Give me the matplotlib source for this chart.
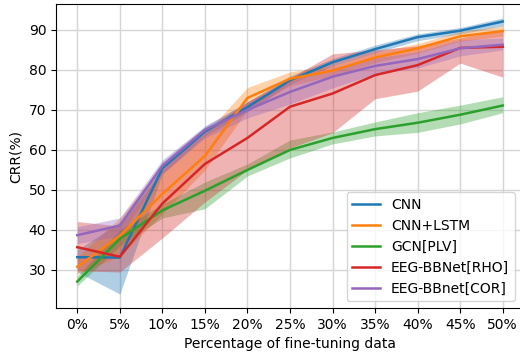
import numpy as np
import matplotlib
matplotlib.use("Agg")
import matplotlib.pyplot as plt

# fine-tuning share on the x axis
ticks = ['0%', '5%', '10%', '15%', '20%', '25%', '30%', '35%', '40%', '45%', '50%']

# mean CRR per model
cnn = [33.2, 33.1, 55.4, 64.6, 70.7, 77.4, 81.9, 85.2, 88.2, 89.8, 92.1]
cnn_lstm = [30.8, 38.5, 49.0, 58.5, 73.0, 77.8, 79.8, 83.1, 85.4, 88.4, 89.7]
gcn_plv = [27.1, 37.8, 44.9, 49.8, 55.0, 60.0, 63.0, 65.2, 66.8, 68.8, 71.1]
bb_rho = [35.7, 33.3, 46.6, 56.5, 63.0, 70.8, 74.1, 78.7, 81.2, 85.5, 85.8]
bb_cor = [38.7, 41.1, 56.0, 65.0, 70.0, 74.5, 78.3, 81.0, 82.7, 85.4, 86.3]

# shaded range, lower / upper
cnn_lo = [29.5, 24.0, 54.0, 63.5, 69.5, 76.5, 81.0, 84.3, 87.3, 89.0, 91.0]
cnn_hi = [35.0, 42.0, 57.0, 65.8, 72.0, 78.5, 82.8, 86.2, 89.0, 90.6, 93.0]
lstm_lo = [29.0, 33.5, 44.0, 55.0, 70.0, 76.0, 78.6, 81.8, 84.2, 87.2, 88.4]
lstm_hi = [33.2, 43.0, 56.0, 64.0, 75.6, 79.5, 81.0, 84.4, 86.6, 89.6, 91.0]
gcn_lo = [26.0, 36.0, 43.0, 45.3, 53.5, 58.0, 61.5, 63.5, 64.4, 66.5, 69.3]
gcn_hi = [28.5, 40.0, 46.5, 52.0, 56.5, 62.5, 64.5, 67.0, 69.3, 71.2, 73.3]
rho_lo = [29.8, 29.5, 38.0, 47.0, 55.0, 60.5, 64.3, 72.8, 74.7, 81.7, 78.2]
rho_hi = [42.1, 41.0, 55.0, 65.0, 72.0, 78.0, 84.0, 85.0, 86.0, 88.0, 90.0]
cor_lo = [36.6, 38.5, 54.0, 63.0, 68.0, 71.5, 75.5, 79.0, 80.5, 83.5, 85.0]
cor_hi = [40.8, 43.0, 57.5, 66.0, 72.0, 77.0, 80.5, 83.0, 84.5, 87.5, 88.0]

names = ['CNN', 'CNN+LSTM', 'GCN[PLV]', 'EEG-BBNet[RHO]', 'EEG-BBnet[COR]']
means = [cnn, cnn_lstm, gcn_plv, bb_rho, bb_cor]
lows = [cnn_lo, lstm_lo, gcn_lo, rho_lo, cor_lo]
highs = [cnn_hi, lstm_hi, gcn_hi, rho_hi, cor_hi]
colors = ['#1f77b4', '#ff7f0e', '#2ca02c', '#d62728', '#9467bd']

x = np.arange(len(ticks))

fig = plt.figure(figsize=(5.2, 3.53), dpi=100)
# the right edge of the axes sits just past the picture, as in the original crop
ax = fig.add_axes([56 / 520, 45 / 353, 468 / 520, 303.7 / 353])

for m, lo, hi, c, name in zip(means, lows, highs, colors, names):
    ax.fill_between(x, lo, hi, color=c, alpha=0.35, linewidth=0)
    ax.plot(x, m, color=c, linewidth=1.8, label=name)

ax.set_xticks(x)
ax.set_xticklabels(ticks)
ax.set_yticks([30, 40, 50, 60, 70, 80, 90])
ax.set_xlim(-0.5, 10.5)
ax.set_ylim(20.5, 96.4)
ax.spines['right'].set_visible(False)
ax.grid(True, color='#d5d5d5', linewidth=1.0)
ax.set_axisbelow(True)
ax.set_xlabel('Percentage of fine-tuning data')
ax.set_ylabel('CRR(%)')
ax.legend(loc='lower right', bbox_to_anchor=(0.995, 0.0))

fig.savefig('out.png', dpi=100)
